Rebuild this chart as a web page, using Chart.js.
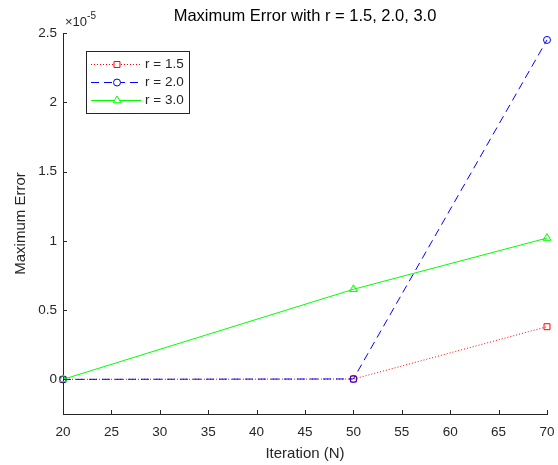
<!DOCTYPE html>
<html>
<head>
<meta charset="utf-8">
<script src="https://cdn.jsdelivr.net/npm/chart.js@4"></script>
<style>
  html, body { margin: 0; padding: 0; background: #fff; }
</style>
</head>
<body>
<canvas id="chart" width="558" height="465"></canvas>
<script>
'use strict';

// values in units of 1e-5
const iterations = [20, 50, 70];
const err15 = [0, 0.002, 0.38];
const err20 = [0, 0.003, 2.45];
const err30 = [0, 0.65, 1.02];
const seriesLabels = ['r = 1.5', 'r = 2.0', 'r = 3.0'];
const xTicks = [20, 25, 30, 35, 40, 45, 50, 55, 60, 65, 70];
const yTicks = [0, 0.5, 1, 1.5, 2, 2.5];
const titleText = 'Maximum Error with r = 1.5, 2.0, 3.0';

const FONT = '"Liberation Sans", Arial, sans-serif';
const AXIS_COLOR = '#262626';

function pts(ys) {
  return iterations.map((x, i) => ({ x: x, y: ys[i] }));
}

// small ticks pointing into the plot, like matlab, plus title and exponent
const axesDecor = {
  id: 'axesDecor',
  afterDraw(chart) {
    const ctx = chart.ctx;
    const xs = chart.scales.x, ys = chart.scales.y;
    ctx.save();
    ctx.strokeStyle = AXIS_COLOR;
    ctx.lineWidth = 1;
    ctx.beginPath();
    xs.ticks.forEach(t => {
      const px = Math.round(xs.getPixelForValue(t.value)) + 0.5;
      ctx.moveTo(px, ys.bottom);
      ctx.lineTo(px, ys.bottom - 4);
    });
    ys.ticks.forEach(t => {
      const py = Math.round(ys.getPixelForValue(t.value)) + 0.5;
      ctx.moveTo(xs.left, py);
      ctx.lineTo(xs.left + 4, py);
    });
    ctx.stroke();

    // title centred over the axes
    ctx.fillStyle = '#000';
    ctx.font = '16.5px ' + FONT;
    ctx.textAlign = 'center';
    ctx.textBaseline = 'middle';
    ctx.fillText(titleText, (xs.left + xs.right) / 2, 16);

    // exponent label
    ctx.fillStyle = AXIS_COLOR;
    ctx.font = '13px ' + FONT;
    ctx.textBaseline = 'alphabetic';
    ctx.textAlign = 'left';
    ctx.fillText('\u00d710', xs.left + 2, ys.top - 7);
    const w = ctx.measureText('\u00d710').width;
    ctx.font = '10px ' + FONT;
    ctx.fillText('-5', xs.left + 2 + w, ys.top - 14);
    ctx.restore();
  }
};

// legend box with line + marker samples
const boxLegend = {
  id: 'boxLegend',
  afterDraw(chart) {
    const ctx = chart.ctx;
    const bx = 86.5, by = 51.5, bw = 103, bh = 62;
    ctx.save();
    ctx.fillStyle = '#fff';
    ctx.fillRect(bx, by, bw, bh);
    ctx.strokeStyle = AXIS_COLOR;
    ctx.lineWidth = 1;
    ctx.strokeRect(bx, by, bw, bh);
    const rowsY = [64, 82, 100];
    chart.data.datasets.forEach((ds, i) => {
      const y = rowsY[i] + 0.5;
      ctx.strokeStyle = ds.borderColor;
      ctx.lineWidth = ds.borderWidth;
      ctx.setLineDash(ds.borderDash || []);
      ctx.beginPath();
      ctx.moveTo(91, y);
      ctx.lineTo(141, y);
      ctx.stroke();
      ctx.setLineDash([]);
      ctx.fillStyle = '#fff';
      Chart.helpers.drawPoint(ctx, {
        pointStyle: ds.pointStyle,
        radius: ds.pointRadius,
        borderWidth: 1,
        rotation: 0
      }, 117, y);
      ctx.fillStyle = AXIS_COLOR;
      ctx.font = '13.5px ' + FONT;
      ctx.textBaseline = 'middle';
      ctx.fillText(ds.label, 145, y);
    });
    ctx.restore();
  }
};

new Chart(document.getElementById('chart'), {
  type: 'line',
  data: {
    datasets: [
      {
        label: seriesLabels[0], data: pts(err15), order: 3,
        borderColor: '#ff0000', borderWidth: 1, borderDash: [1, 2],
        pointStyle: 'rect', pointRadius: 4.2, pointBorderWidth: 1,
        pointBorderColor: '#ff0000', pointBackgroundColor: 'rgba(0,0,0,0)',
        clip: false
      },
      {
        label: seriesLabels[1], data: pts(err20), order: 2,
        borderColor: '#0000ff', borderWidth: 1, borderDash: [8, 5],
        pointStyle: 'circle', pointRadius: 3.5, pointBorderWidth: 1,
        pointBorderColor: '#0000ff', pointBackgroundColor: 'rgba(0,0,0,0)',
        clip: false
      },
      {
        label: seriesLabels[2], data: pts(err30), order: 1,
        borderColor: '#00ff00', borderWidth: 1,
        pointStyle: 'triangle', pointRadius: 4.5, pointBorderWidth: 1,
        pointBorderColor: '#00ff00', pointBackgroundColor: 'rgba(0,0,0,0)',
        clip: false
      }
    ]
  },
  options: {
    responsive: false,
    animation: false,
    devicePixelRatio: 1,
    layout: { padding: { left: 0, right: 11, top: 33, bottom: 0 } },
    plugins: {
      legend: { display: false },
      tooltip: { enabled: false },
      title: { display: false }
    },
    scales: {
      x: {
        type: 'linear',
        min: 20, max: 70,
        afterBuildTicks: s => { s.ticks = xTicks.map(v => ({ value: v })); },
        afterFit: s => { s.height = 51; s.paddingLeft = 0; s.paddingRight = 0; },
        grid: { display: false, drawTicks: false },
        border: { display: true, color: AXIS_COLOR, width: 1 },
        ticks: { color: AXIS_COLOR, padding: 10, font: { family: FONT, size: 13.5 } },
        title: {
          display: true, text: 'Iteration (N)', color: AXIS_COLOR,
          font: { family: FONT, size: 15 }, padding: { top: 0, bottom: 2 }
        }
      },
      y: {
        type: 'linear',
        min: -0.25, max: 2.5,
        afterBuildTicks: s => { s.ticks = yTicks.map(v => ({ value: v })); },
        afterFit: s => { s.width = 63; s.paddingTop = 0; s.paddingBottom = 0; },
        grid: { display: false, drawTicks: false },
        border: { display: true, color: AXIS_COLOR, width: 1 },
        ticks: {
          color: AXIS_COLOR, padding: 6, font: { family: FONT, size: 13.5 },
          callback: v => String(v)
        },
        title: {
          display: true, text: 'Maximum Error', color: AXIS_COLOR,
          font: { family: FONT, size: 15 }, padding: { top: 12, bottom: 0 }
        }
      }
    }
  },
  plugins: [axesDecor, boxLegend]
});
</script>
</body>
</html>
